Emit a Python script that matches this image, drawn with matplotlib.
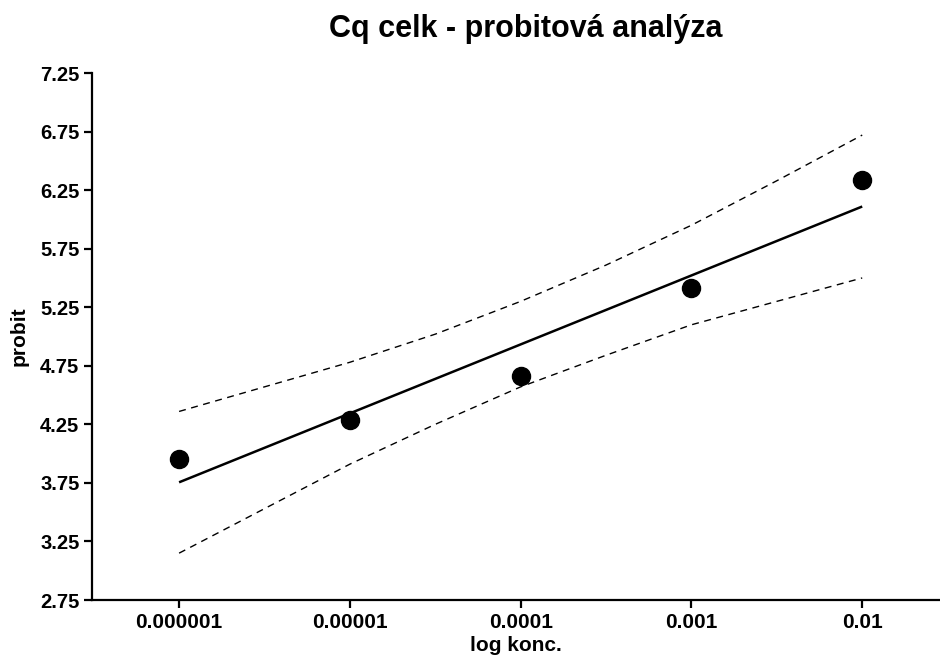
import matplotlib
matplotlib.use("Agg")
import matplotlib.pyplot as plt
from matplotlib.ticker import FixedLocator, FixedFormatter, NullLocator

plt.rcParams['font.family'] = ['Liberation Sans', 'DejaVu Sans']

# Data
conc = [1e-6, 1e-5, 1e-4, 1e-3, 1e-2]
probit = [3.954, 4.287, 4.662, 5.414, 6.336]

fit_x = [1e-6, 1e-2]
fit_y = [3.755, 6.110]

ci_x = [1e-6, 10**-5.5, 1e-5, 10**-4.5, 1e-4, 10**-3.5, 1e-3, 10**-2.5, 1e-2]
ci_upper = [4.36, 4.57, 4.78, 5.02, 5.30, 5.61, 5.95, 6.33, 6.72]
ci_lower = [3.15, 3.53, 3.91, 4.25, 4.57, 4.84, 5.10, 5.30, 5.50]

x_ticks = [1e-6, 1e-5, 1e-4, 1e-3, 1e-2]
x_ticklabels = ['0.000001', '0.00001', '0.0001', '0.001', '0.01']
y_ticks = [2.75, 3.25, 3.75, 4.25, 4.75, 5.25, 5.75, 6.25, 6.75, 7.25]
y_ticklabels = ['2.75', '3.25', '3.75', '4.25', '4.75', '5.25', '5.75', '6.25', '6.75', '7.25']

fig = plt.figure(figsize=(9.4, 6.63), dpi=100)
ax = fig.add_axes([92/940, 63/663, 1 - 92/940 - 0.001, (600-73)/663])

ax.plot(ci_x, ci_upper, color='black', lw=1.0, dashes=(5, 4))
ax.plot(ci_x, ci_lower, color='black', lw=1.0, dashes=(5, 4))
ax.plot(fit_x, fit_y, color='black', lw=1.8, solid_capstyle='butt')
ax.plot(conc, probit, 'o', color='black', markersize=13, zorder=5)

ax.set_xscale('log')
ax.set_xlim(10**-6.51, 10**-1.55)
ax.set_ylim(2.75, 7.25)

ax.xaxis.set_major_locator(FixedLocator(x_ticks))
ax.xaxis.set_major_formatter(FixedFormatter(x_ticklabels))
ax.xaxis.set_minor_locator(NullLocator())
ax.yaxis.set_major_locator(FixedLocator(y_ticks))
ax.yaxis.set_major_formatter(FixedFormatter(y_ticklabels))

for s in ['top', 'right']:
    ax.spines[s].set_visible(False)
for s in ['left', 'bottom']:
    ax.spines[s].set_linewidth(1.6)

ax.tick_params(axis='y', direction='out', length=6, width=1.6,
               labelsize=14.5, pad=3)
ax.tick_params(axis='x', direction='out', length=6, width=1.6,
               labelsize=15, pad=3)
for lbl in ax.get_xticklabels() + ax.get_yticklabels():
    lbl.set_fontweight('bold')

ax.set_xlabel('log konc.', fontsize=15, fontweight='bold', labelpad=3)
ax.set_ylabel('probit', fontsize=15, fontweight='bold', labelpad=8)
fig.text(526/940, 1 - 29/663, 'Cq celk - probitová analýza', fontsize=22,
         fontweight='bold', ha='center', va='center')

fig.savefig('out.png', dpi=100)
